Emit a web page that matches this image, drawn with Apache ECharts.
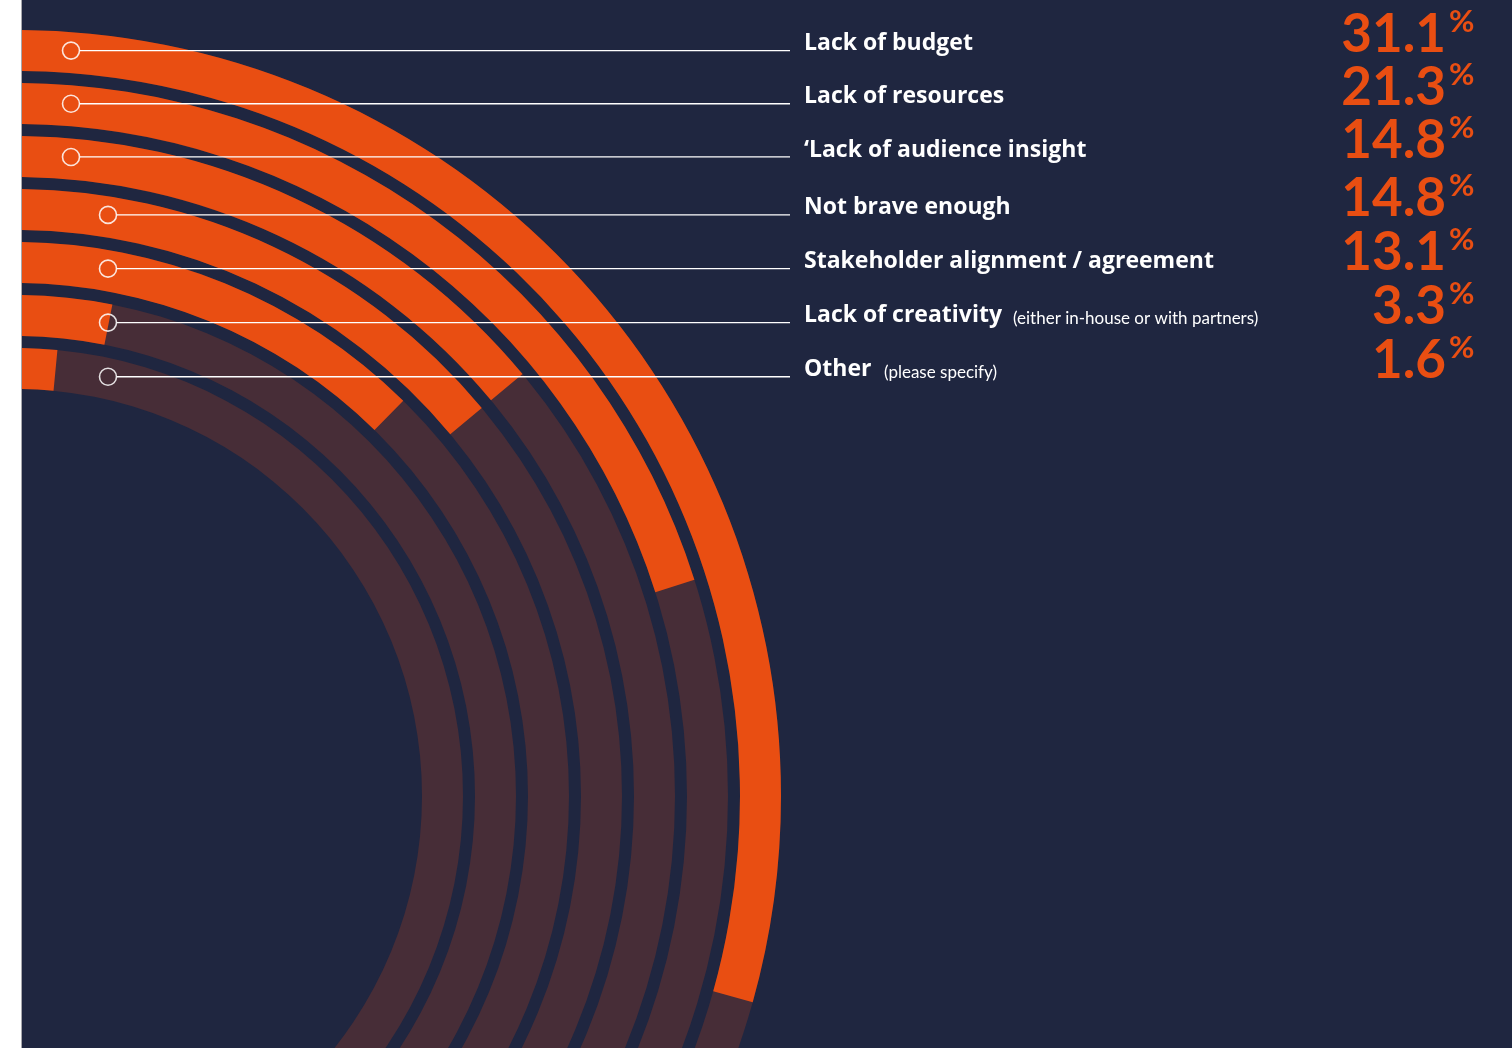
<!DOCTYPE html>
<html>
<head>
<meta charset="utf-8">
<script src="https://cdn.jsdelivr.net/npm/echarts@6/dist/echarts.min.js"></script>
<style>
  html, body { margin: 0; padding: 0; background: #ffffff; width: 1512px; height: 1048px; overflow: hidden; }
  #chart { position: absolute; left: 22px; top: 0; width: 1490px; height: 1048px; }
  #edge { position: absolute; left: 21px; top: 0; width: 1px; height: 1048px; background: #a8a8ad; }
</style>
</head>
<body>
<div id="edge"></div>
<div id="chart"></div>
<script>
// ---- data ----
const categories = [
  'Lack of budget',
  'Lack of resources',
  '\u2018Lack of audience insight',
  'Not brave enough',
  'Stakeholder alignment / agreement',
  'Lack of creativity',
  'Other'
];
const notes = ['', '', '', '', '', '(either in-house or with partners)', '(please specify)'];
const values = [31.1, 21.3, 14.8, 14.8, 13.1, 3.3, 1.6];
const valueLabels = ['31.1', '21.3', '14.8', '14.8', '13.1', '3.3', '1.6'];

// ---- layout / style ----
const BG = '#1f2640', ORANGE = '#e94e12', TRACK = '#472d37';
const CX = -7, CY = 796, R0 = 401, R1 = 772;
const ANGLE_MAX = 106;
const LINE_END = 768, LABEL_X = 782, VALUE_RIGHT = 1424, PCT_X = 1427;
const markerX = [49, 49, 49, 86, 86, 86, 86];
const noteX = [0, 0, 0, 0, 0, 991, 862];
const MARKER_LIFT = 2;

const chart = echarts.init(document.getElementById('chart'), null, { renderer: 'canvas' });
chart.setOption({
  backgroundColor: BG,
  animation: false,
  polar: { center: [CX, CY], radius: [R0, R1] },
  angleAxis: {
    type: 'value', min: 0, max: ANGLE_MAX, startAngle: 90, clockwise: true,
    axisLine: { show: false }, axisTick: { show: false }, axisLabel: { show: false }, splitLine: { show: false }
  },
  radiusAxis: {
    type: 'category', data: categories, inverse: true,
    axisLine: { show: false }, axisTick: { show: false }, axisLabel: { show: false }, splitLine: { show: false }
  },
  series: [{
    type: 'bar',
    coordinateSystem: 'polar',
    data: values,
    barWidth: 41,
    showBackground: true,
    backgroundStyle: { color: TRACK },
    itemStyle: { color: ORANGE },
    silent: true
  }]
});

const graphics = [];
categories.forEach((name, i) => {
  const p = chart.convertToPixel({ polarIndex: 0 }, [i, 0]);
  const r = Math.hypot(p[0] - CX, p[1] - CY);
  const dx = markerX[i] - CX;
  const y = CY - Math.sqrt(r * r - dx * dx) - MARKER_LIFT;
  graphics.push({
    type: 'line', silent: true, z: 10,
    shape: { x1: markerX[i] + 8.5, y1: y, x2: LINE_END, y2: y },
    style: { stroke: '#ffffff', lineWidth: 1.3 }
  });
  graphics.push({
    type: 'circle', silent: true, z: 10,
    shape: { cx: markerX[i], cy: y, r: 8.5 },
    style: { fill: 'transparent', stroke: 'rgba(255,255,255,0.85)', lineWidth: 1.6 }
  });
  const base = y + 1;
  graphics.push({
    type: 'text', silent: true, z: 10,
    style: { text: name, x: LABEL_X, y: base - 8, fill: '#ffffff', font: 'bold 23px "Open Sans"', align: 'left', verticalAlign: 'middle' }
  });
  if (notes[i]) {
    graphics.push({
      type: 'text', silent: true, z: 10,
      style: { text: notes[i], x: noteX[i], y: base - 5, fill: '#ffffff', font: '17px Lato', align: 'left', verticalAlign: 'middle' }
    });
  }
  graphics.push({
    type: 'text', silent: true, z: 10,
    style: { text: valueLabels[i], x: VALUE_RIGHT, y: base - 17, fill: ORANGE, font: 'bold 53px Lato', align: 'right', verticalAlign: 'middle' }
  });
  graphics.push({
    type: 'text', silent: true, z: 10,
    style: { text: '%', x: PCT_X, y: base - 30, fill: ORANGE, font: 'bold 31px Lato', align: 'left', verticalAlign: 'middle' }
  });
});
chart.setOption({ graphic: { elements: graphics } });
</script>
</body>
</html>
